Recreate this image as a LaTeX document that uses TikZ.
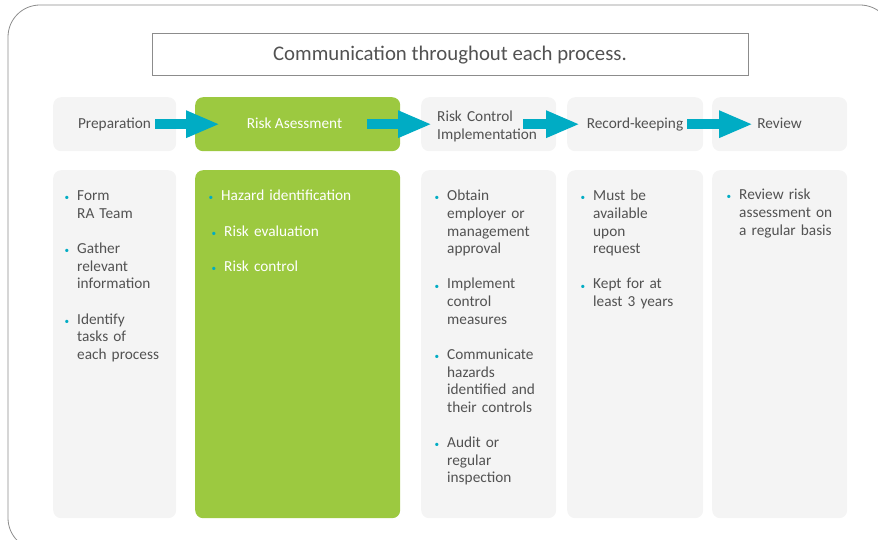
\documentclass[tikz,border=0pt]{standalone}
\usepackage{fontspec}
\setmainfont{Carlito}
\usetikzlibrary{arrows.meta,positioning}
\definecolor{boxgray}{RGB}{244,244,244}
\definecolor{riskgreen}{RGB}{156,201,64}
\definecolor{flowteal}{RGB}{0,172,196}
\definecolor{txtgray}{RGB}{82,82,82}
\definecolor{linegray}{RGB}{140,140,140}
\newcommand{\bul}{\leavevmode\llap{\textcolor{flowteal}{\scalebox{0.6}{\textbullet}}\hspace{8pt}}}

\begin{document}
\begin{tikzpicture}[x=1pt,y=-1pt]
    \tikzstyle{every node}=[font=\fontsize{15.3}{17.6}\selectfont, text=txtgray]
    \tikzstyle{bar}=[fill=boxgray, rounded corners=8pt, anchor=north west, minimum height=54pt, inner sep=0pt]
    \tikzstyle{column}=[fill=boxgray, rounded corners=8pt, anchor=north west, minimum height=348pt, inner sep=0pt]
    \tikzstyle{items}=[anchor=base west, inner sep=0pt, text width=125pt, align=left]
    \tikzstyle{flow}=[-{Triangle[length=34pt,width=25pt]}, line width=10pt, flowteal]
     \useasboundingbox (0,0) rectangle (878,540);
     \clip (0,0) rectangle (878,540);
     \draw[linegray, line width=0.8pt, rounded corners=32pt] (8,5) rectangle (892,550);

     \node[draw=linegray, line width=0.8pt, minimum width=596pt, minimum height=42pt, anchor=north west, inner sep=0pt] (comm) at (152,33) {};
     \node[anchor=base, font=\fontsize{20.8}{24}\selectfont] (commlbl) at (450,61) {Communication throughout each process.};

     \node[bar, minimum width=123pt] (prepbar) at (53,97) {};
     \node[bar, minimum width=205pt, fill=riskgreen] (rabar) at (195,97) {};
     \node[bar, minimum width=135pt] (rcibar) at (421,97) {};
     \node[bar, minimum width=136pt] (rkbar) at (567,97) {};
     \node[bar, minimum width=135pt] (rvbar) at (712,97) {};

     \node[anchor=base] (preplbl) at (114.5,129) {Preparation};
     \node[anchor=base, text=white] (ralbl) at (294.5,129) {Risk Asessment};
     \node[items] (rcilbl) at (437,122) {Risk Control\\ Implementation};
     \node[anchor=base] (rklbl) at (635,129) {Record-keeping};
     \node[anchor=base] (rvlbl) at (779.5,129) {Review};

     \draw[flow] ([xshift=-21pt]prepbar.east) -- ([xshift=25pt]rabar.west);
     \draw[flow] ([xshift=-33pt]rabar.east) -- ([xshift=11pt]rcibar.west);
     \draw[flow] ([xshift=-33pt]rcibar.east) -- ([xshift=13pt]rkbar.west);
     \draw[flow] ([xshift=-16pt]rkbar.east) -- ([xshift=41pt]rvbar.west);

     \node[column, minimum width=123pt] (prepcol) at (53,170) {};
     \node[column, minimum width=205pt, fill=riskgreen] (racol) at (195,170) {};
     \node[column, minimum width=135pt] (rcicol) at (421,170) {};
     \node[column, minimum width=136pt] (rkcol) at (567,170) {};
     \node[column, minimum width=135pt] (rvcol) at (712,170) {};

     \node[items] (prepitems) at (77,201) {\bul Form\\ RA Team\\[17.6pt] \bul Gather\\ relevant\\ information\\[17.6pt] \bul Identify\\ tasks of\\ each process};
     \node[items, text=white, text width=170pt] (raitems) at (221,201) {\bul Hazard identification\\[17.6pt] \hspace*{3pt}\bul Risk evaluation\\[17.6pt] \hspace*{3pt}\bul Risk control};
     \node[items] (rciitems) at (447,201) {\bul Obtain\\ employer or\\ management\\ approval\\[17.6pt] \bul Implement\\ control\\ measures\\[17.6pt] \bul Communicate\\ hazards\\ identified and\\ their controls\\[17.6pt] \bul Audit or\\ regular\\ inspection};
     \node[items] (rkitems) at (593,201) {\bul Must be\\ available\\ upon\\ request\\[17.6pt] \bul Kept for at\\ least 3 years};
     \node[items] (rvitems) at (739,200) {\bul Review risk\\ assessment on\\ a regular basis};
\end{tikzpicture}
\end{document}
